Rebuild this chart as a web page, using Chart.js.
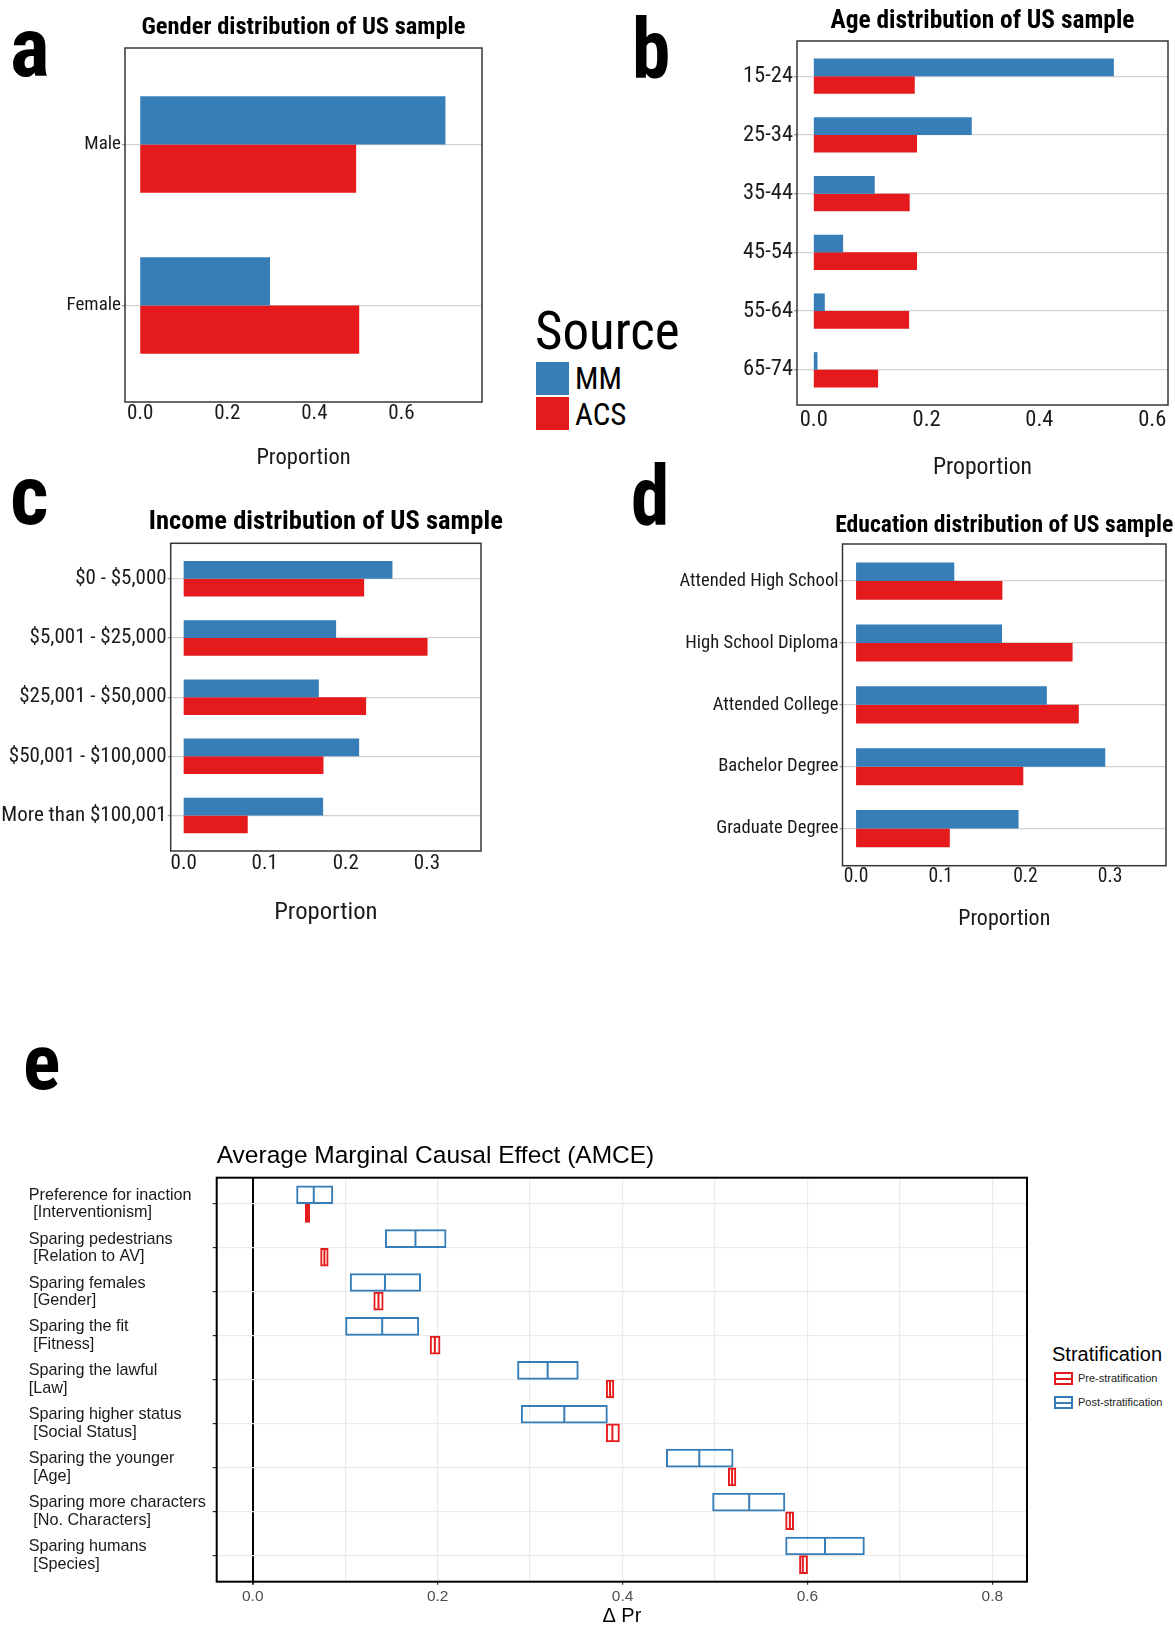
<!DOCTYPE html>
<html>
<head>
<meta charset="utf-8">
<script src="https://cdn.jsdelivr.net/npm/chart.js@4.4.0/dist/chart.umd.min.js"></script>
<style>
  body { margin: 0; background: #fff; }
  #page { position: relative; width: 1175px; height: 1625px; overflow: hidden; }
  canvas { position: absolute; }
  .narrow { font-family: "Roboto Condensed", "DejaVu Sans Condensed", sans-serif; }
  .letter { position: absolute; font-weight: bold; color: #000; z-index: 2; transform-origin: left top; }
  .txt { position: absolute; color: #000; white-space: nowrap; }
  .swatch { position: absolute; width: 33px; height: 33px; }
  .sans { font-family: "Liberation Sans", Arial, sans-serif; }
  .key { position: absolute; width: 19px; height: 13px; box-sizing: border-box; border: 2px solid; }
  .key div { position: absolute; left: 0; right: 0; top: 3.5px; height: 2px; }
</style>
</head>
<body>
<div id="page">
  <canvas id="genderChart" width="500" height="480" style="left:0;top:0;width:500px;height:480px"></canvas>
  <canvas id="ageChart" width="475" height="485" style="left:700px;top:0;width:475px;height:485px"></canvas>
  <canvas id="incomeChart" width="520" height="455" style="left:0;top:480px;width:520px;height:455px"></canvas>
  <canvas id="eduChart" width="535" height="465" style="left:640px;top:480px;width:535px;height:465px"></canvas>
  <canvas id="amceChart" width="1040" height="500" style="left:0;top:1130px;width:1040px;height:500px"></canvas>

  <!-- panel letters -->
  <div class="letter narrow" style="left:10px;top:6px;font-size:84px;line-height:84px">a</div>
  <div class="letter narrow" style="left:632px;top:7px;font-size:84px;line-height:84px;transform:scaleX(0.92)">b</div>
  <div class="letter narrow" style="left:10px;top:454px;font-size:84px;line-height:84px">c</div>
  <div class="letter narrow" style="left:631px;top:454px;font-size:84px;line-height:84px;transform:scaleX(0.92)">d</div>
  <div class="letter narrow" style="left:23px;top:1024px;font-size:78px;line-height:78px">e</div>

  <!-- shared Source legend for a-d -->
  <div class="txt narrow" style="left:535px;top:305px;font-size:53px;line-height:53px">Source</div>
  <div class="swatch" style="left:536px;top:362px;background:#377EB8"></div>
  <div class="swatch" style="left:536px;top:397px;background:#E41A1C"></div>
  <div class="txt narrow" style="left:575px;top:363px;font-size:31px;line-height:31px">MM</div>
  <div class="txt narrow" style="left:575px;top:399px;font-size:31px;line-height:31px">ACS</div>

  <!-- Stratification legend for e -->
  <div class="txt sans" style="left:1052px;top:1344px;font-size:20px;line-height:20px">Stratification</div>
  <div class="key" style="left:1054px;top:1372px;border-color:#E41A1C"><div style="background:#E41A1C"></div></div>
  <div class="txt sans" style="left:1078px;top:1372px;font-size:11px;line-height:13px;color:#222">Pre-stratification</div>
  <div class="key" style="left:1054px;top:1396px;border-color:#377EB8"><div style="background:#377EB8"></div></div>
  <div class="txt sans" style="left:1078px;top:1396px;font-size:11px;line-height:13px;color:#222">Post-stratification</div>
</div>

<script>
/* -------------------------
   Data
   ------------------------- */
const genderCats = ['Male', 'Female'];
const genderMM = [0.701, 0.298];
const genderACS = [0.496, 0.503];

const ageCats = ['15-24', '25-34', '35-44', '45-54', '55-64', '65-74'];
const ageMM = [0.532, 0.280, 0.108, 0.052, 0.0195, 0.0065];
const ageACS = [0.179, 0.183, 0.170, 0.183, 0.169, 0.114];

const incomeCats = ['$0 - $5,000', '$5,001 - $25,000', '$25,001 - $50,000', '$50,001 - $100,000', 'More than $100,001'];
const incomeMM = [0.2575, 0.188, 0.1667, 0.2164, 0.172];
const incomeACS = [0.2226, 0.3008, 0.225, 0.1724, 0.079];

const eduCats = ['Attended High School', 'High School Diploma', 'Attended College', 'Bachelor Degree', 'Graduate Degree'];
const eduMM = [0.116, 0.1724, 0.2253, 0.2943, 0.1919];
const eduACS = [0.1728, 0.2557, 0.263, 0.1975, 0.1107];

const ticksAB = [0, 0.2, 0.4, 0.6];
const ticksCD = [0, 0.1, 0.2, 0.3];

const amceCats = [
  ['Preference for inaction', ' [Interventionism]'],
  ['Sparing pedestrians', ' [Relation to AV]'],
  ['Sparing females', ' [Gender]'],
  ['Sparing the fit', ' [Fitness]'],
  ['Sparing the lawful', '[Law]'],
  ['Sparing higher status', ' [Social Status]'],
  ['Sparing the younger', ' [Age]'],
  ['Sparing more characters', ' [No. Characters]'],
  ['Sparing humans', ' [Species]']
];
// post-stratification (blue) crossbars: lower, estimate, upper
const postLo = [0.047, 0.143, 0.105, 0.100, 0.286, 0.290, 0.447, 0.497, 0.576];
const postMid = [0.066, 0.176, 0.143, 0.140, 0.319, 0.337, 0.483, 0.537, 0.619];
const postHi = [0.087, 0.2095, 0.182, 0.180, 0.3525, 0.384, 0.520, 0.576, 0.662];
// pre-stratification (red) crossbars
const preLo = [0.0565, 0.073, 0.1305, 0.1915, 0.382, 0.382, 0.514, 0.576, 0.591];
const preMid = [0.059, 0.0775, 0.136, 0.197, 0.3865, 0.389, 0.5185, 0.581, 0.595];
const preHi = [0.062, 0.082, 0.1415, 0.203, 0.391, 0.397, 0.523, 0.5855, 0.6005];

const amceTicks = [0, 0.1, 0.2, 0.3, 0.4, 0.5, 0.6, 0.7, 0.8];
const amceTickLabels = ['0.0', '', '0.2', '', '0.4', '', '0.6', '', '0.8'];

/* -------------------------
   Shared styling
   ------------------------- */
const NARROW = '"Roboto Condensed", "DejaVu Sans Condensed", sans-serif';
const SANS = '"Liberation Sans", Arial, sans-serif';
const BLUE = '#377EB8';
const RED = '#E41A1C';

Chart.defaults.font.family = NARROW;
Chart.defaults.color = '#1a1a1a';

// box round the plot area (ggplot panel border)
const framePlugin = {
  id: 'frame',
  afterDraw(chart, args, opts) {
    const { ctx, chartArea: a } = chart;
    ctx.save();
    ctx.strokeStyle = opts.color;
    ctx.lineWidth = opts.width;
    ctx.strokeRect(a.left, a.top, a.right - a.left, a.bottom - a.top);
    ctx.restore();
  }
};

// bold panel title centred over the plot area, kept within a set width
const panelTitlePlugin = {
  id: 'panelTitle',
  afterDraw(chart, args, opts) {
    const { ctx, chartArea: a } = chart;
    ctx.save();
    ctx.font = 'bold ' + opts.size + 'px ' + NARROW;
    ctx.fillStyle = '#000';
    ctx.textAlign = 'center';
    ctx.textBaseline = 'middle';
    ctx.fillText(opts.text, (a.left + a.right) / 2, a.top - opts.gap, opts.maxWidth);
    ctx.restore();
  }
};

// middle (estimate) line of each crossbar
const midLinePlugin = {
  id: 'midLine',
  afterDatasetsDraw(chart) {
    const ctx = chart.ctx;
    const xs = chart.scales.x;
    const mids = [postMid, preMid];
    chart.data.datasets.forEach((ds, di) => {
      chart.getDatasetMeta(di).data.forEach((bar, i) => {
        const px = xs.getPixelForValue(mids[di][i]);
        const { y, height } = bar.getProps(['y', 'height'], true);
        ctx.save();
        ctx.strokeStyle = ds.borderColor;
        ctx.lineWidth = 2;
        ctx.beginPath();
        ctx.moveTo(px, y - height / 2 + 1);
        ctx.lineTo(px, y + height / 2 - 1);
        ctx.stroke();
        ctx.restore();
      });
    });
  }
};

/* -------------------------
   Panels a-d: MM vs ACS bars
   ------------------------- */
function barPanel(id, c) {
  const toPts = vals => vals.map((v, i) => ({ x: v, y: i + 1 }));
  return new Chart(document.getElementById(id), {
    type: 'bar',
    data: {
      datasets: [
        { label: 'MM', data: toPts(c.mm), backgroundColor: BLUE },
        { label: 'ACS', data: toPts(c.acs), backgroundColor: RED }
      ]
    },
    options: {
      indexAxis: 'y',
      responsive: false,
      animation: false,
      categoryPercentage: 0.6,
      barPercentage: 1,
      layout: { padding: { left: 0, right: c.padRight, top: c.padTop, bottom: 0 } },
      plugins: {
        legend: { display: false },
        tooltip: { enabled: false },
        panelTitle: { text: c.title, size: c.titleSize, maxWidth: c.titleWidth, gap: c.titleGap },
        frame: { color: '#363636', width: 1.5 }
      },
      scales: {
        x: {
          type: 'linear', min: c.xMin, max: c.xMax,
          grid: { display: false, drawTicks: false },
          border: { display: false },
          afterBuildTicks: s => { s.ticks = c.xTicks.map(v => ({ value: v })); },
          afterFit: s => { s.height = c.xAxisHeight; },
          ticks: {
            callback: v => v.toFixed(1), autoSkip: false, maxRotation: 0,
            padding: c.xTickPad, font: { size: c.xTickSize, lineHeight: 1 }
          },
          title: {
            display: true, text: 'Proportion',
            font: { size: c.xTitleSize, lineHeight: 1.2 },
            padding: { top: 0, bottom: c.xTitlePad }
          }
        },
        y: {
          type: 'linear', min: 0.4, max: c.cats.length + 0.6, reverse: true,
          offset: false,
          grid: { offset: false, color: '#d2d2d2', lineWidth: 1.3, tickLength: 3, tickColor: '#999' },
          border: { display: false },
          afterBuildTicks: s => { s.ticks = c.cats.map((_, i) => ({ value: i + 1 })); },
          afterFit: s => { s.width = c.yAxisWidth; },
          ticks: {
            callback: v => c.cats[v - 1], autoSkip: false, padding: 1,
            font: { size: c.yTickSize }
          }
        }
      }
    },
    plugins: [framePlugin, panelTitlePlugin]
  });
}

const genderChart = barPanel('genderChart', {
  title: 'Gender distribution of US sample', titleSize: 24.5, titleWidth: 324, titleGap: 20, padTop: 48,
  cats: genderCats, mm: genderMM, acs: genderACS,
  xMin: -0.035, xMax: 0.785, xTicks: ticksAB,
  padRight: 18, yAxisWidth: 125, xAxisHeight: 78,
  xTickSize: 21, xTickPad: 1.2, xTitleSize: 22.5, xTitlePad: 8.5, yTickSize: 19
});

const ageChart = barPanel('ageChart', {
  title: 'Age distribution of US sample', titleSize: 25.5, titleWidth: 304, titleGap: 19.3, padTop: 41,
  cats: ageCats, mm: ageMM, acs: ageACS,
  xMin: -0.0298, xMax: 0.628, xTicks: ticksAB,
  padRight: 7, yAxisWidth: 97, xAxisHeight: 80,
  xTickSize: 22.5, xTickPad: 4.4, xTitleSize: 23.7, xTitlePad: 2.8, yTickSize: 22.5
});

const incomeChart = barPanel('incomeChart', {
  title: 'Income distribution of US sample', titleSize: 26.7, titleWidth: 354, titleGap: 20.6, padTop: 63.3,
  cats: incomeCats, mm: incomeMM, acs: incomeACS,
  xMin: -0.016, xMax: 0.3667, xTicks: ticksCD,
  padRight: 39, yAxisWidth: 170.7, xAxisHeight: 84,
  xTickSize: 21, xTickPad: 2.5, xTitleSize: 24.7, xTitlePad: 7.2, yTickSize: 21
});

const eduChart = barPanel('eduChart', {
  title: 'Education distribution of US sample', titleSize: 24, titleWidth: 338, titleGap: 18.3, padTop: 64,
  cats: eduCats, mm: eduMM, acs: eduACS,
  xMin: -0.016, xMax: 0.366, xTicks: ticksCD,
  padRight: 9, yAxisWidth: 202.5, xAxisHeight: 79.3,
  xTickSize: 19.6, xTickPad: 1.2, xTitleSize: 22, xTitlePad: 12.8, yTickSize: 18.6
});

/* -------------------------
   Panel e: AMCE crossbars (floating bars)
   ------------------------- */
const amceChart = new Chart(document.getElementById('amceChart'), {
  type: 'bar',
  data: {
    datasets: [
      {
        label: 'Post-stratification',
        data: postLo.map((lo, i) => ({ x: [lo, postHi[i]], y: i + 1 })),
        backgroundColor: 'rgba(0,0,0,0)', borderColor: BLUE, borderWidth: 2, borderSkipped: false
      },
      {
        label: 'Pre-stratification',
        data: preLo.map((lo, i) => ({ x: [lo, preHi[i]], y: i + 1 })),
        backgroundColor: 'rgba(0,0,0,0)', borderColor: RED, borderWidth: 2, borderSkipped: false
      }
    ]
  },
  options: {
    indexAxis: 'y',
    responsive: false,
    animation: false,
    categoryPercentage: 0.85,
    barPercentage: 1,
    layout: { padding: { left: 28.7, right: 13, top: 0, bottom: 0 } },
    plugins: {
      legend: { display: false },
      tooltip: { enabled: false },
      title: {
        display: true, text: 'Average Marginal Causal Effect (AMCE)', fullSize: false, align: 'start',
        color: '#000', font: { family: SANS, size: 24.5, weight: 'normal', lineHeight: 1.2 },
        padding: { top: 11.3, bottom: 7 }
      },
      frame: { color: '#000', width: 2 }
    },
    scales: {
      x: {
        type: 'linear', min: -0.039, max: 0.8375,
        grid: {
          color: c => (c.tick && c.tick.value === 0 ? '#000' : '#ebebeb'),
          lineWidth: c => (c.tick && c.tick.value === 0 ? 2 : 1.2),
          tickLength: 3,
          tickColor: c => (amceTickLabels[c.index] ? '#333' : 'rgba(0,0,0,0)')
        },
        border: { display: false },
        afterBuildTicks: s => { s.ticks = amceTicks.map(v => ({ value: v })); },
        afterFit: s => { s.height = 48.3; },
        ticks: {
          callback: (v, i) => amceTickLabels[i], autoSkip: false, maxRotation: 0,
          padding: 4.2, color: '#4d4d4d', font: { family: SANS, size: 15.5, lineHeight: 1 }
        },
        title: {
          display: true, text: 'Δ Pr', color: '#000',
          font: { family: SANS, size: 20, lineHeight: 1.2 },
          padding: { top: 0, bottom: 2 }
        }
      },
      y: {
        type: 'linear', min: 0.4, max: 9.6, reverse: true,
        offset: false,
        grid: { offset: false, color: '#ebebeb', lineWidth: 1.2, tickLength: 4, tickColor: '#333' },
        border: { display: false },
        afterBuildTicks: s => { s.ticks = amceCats.map((_, i) => ({ value: i + 1 })); },
        afterFit: s => { s.width = 188; },
        ticks: {
          callback: v => amceCats[v - 1], autoSkip: false, crossAlign: 'far',
          color: '#1a1a1a', font: { family: SANS, size: 16.2, lineHeight: 1.08 }
        }
      }
    }
  },
  plugins: [framePlugin, midLinePlugin]
});
</script>
</body>
</html>
